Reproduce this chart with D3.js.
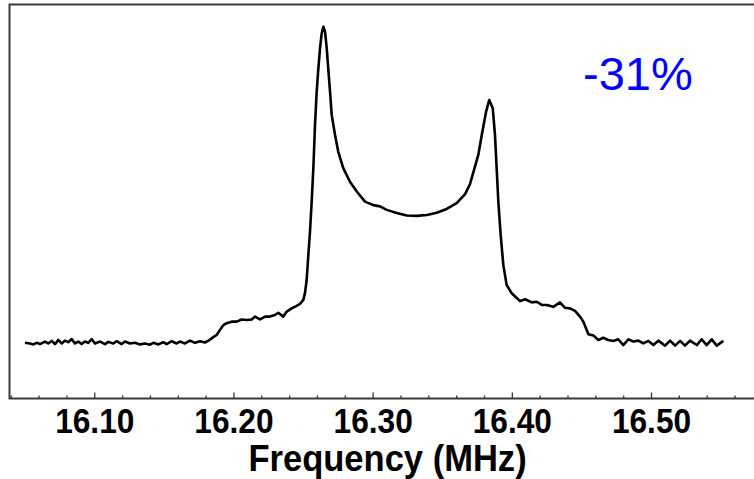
<!DOCTYPE html>
<html>
<head>
<meta charset="utf-8">
<script src="https://cdn.jsdelivr.net/npm/d3@7"></script>
<style>
    body { margin: 0; background: #fff; }
    svg { display: block; }
</style>
</head>
<body>
<div id="spectrum-chart">
  <svg class="canvas"></svg>
</div>
<script>
// NMR spectrum, frequency in MHz, signal normalised to the tallest peak
const frequency = [
    16.0502, 16.0538, 16.0562, 16.0586, 16.0610, 16.0646, 16.0669, 16.0694, 16.0718, 16.0741,
    16.0766, 16.0789, 16.0813, 16.0838, 16.0861, 16.0885, 16.0909, 16.0933, 16.0957, 16.0981,
    16.1005, 16.1041, 16.1077, 16.1101, 16.1137, 16.1161, 16.1197, 16.1221, 16.1257, 16.1292,
    16.1328, 16.1364, 16.1400, 16.1424, 16.1460, 16.1496, 16.1520, 16.1556, 16.1592, 16.1616,
    16.1652, 16.1688, 16.1724, 16.1760, 16.1795, 16.1817, 16.1831, 16.1855, 16.1880, 16.1903,
    16.1927, 16.1951, 16.1987, 16.2023, 16.2059, 16.2095, 16.2131, 16.2155, 16.2191, 16.2227,
    16.2262, 16.2298, 16.2322, 16.2358, 16.2383, 16.2418, 16.2454, 16.2478, 16.2502, 16.2514,
    16.2526, 16.2538, 16.2550, 16.2562, 16.2574, 16.2586, 16.2598, 16.2610, 16.2622, 16.2634,
    16.2646, 16.2658, 16.2670, 16.2681, 16.2694, 16.2706, 16.2730, 16.2753, 16.2789, 16.2837,
    16.2886, 16.2945, 16.3005, 16.3053, 16.3101, 16.3173, 16.3245, 16.3317, 16.3389, 16.3460,
    16.3532, 16.3604, 16.3664, 16.3700, 16.3728, 16.3759, 16.3784, 16.3815, 16.3838, 16.3863,
    16.3879, 16.3891, 16.3903, 16.3920, 16.3939, 16.3963, 16.3999, 16.4035, 16.4059, 16.4095,
    16.4143, 16.4179, 16.4215, 16.4251, 16.4298, 16.4346, 16.4382, 16.4418, 16.4454, 16.4490,
    16.4514, 16.4533, 16.4550, 16.4586, 16.4622, 16.4657, 16.4693, 16.4729, 16.4765, 16.4801,
    16.4837, 16.4873, 16.4909, 16.4945, 16.4981, 16.5017, 16.5053, 16.5101, 16.5137, 16.5173,
    16.5209, 16.5244, 16.5280, 16.5329, 16.5364, 16.5400, 16.5436, 16.5472, 16.5520
];
const signal = [
    -0.001, -0.003, -0.006, -0.001, -0.005, 0.003, -0.003, 0.005, -0.005, 0.008,
    -0.003, 0.006, 0.001, 0.011, -0.003, 0.003, -0.005, 0.003, -0.001, 0.011,
    -0.003, 0.003, -0.005, 0.002, -0.003, 0.004, -0.005, 0.003, -0.003, -0.001,
    -0.006, -0.003, -0.007, -0.001, -0.006, 0.001, -0.005, 0.004, -0.003, 0.003,
    -0.003, 0.006, -0.001, 0.004, 0.000, 0.005, 0.009, 0.017, 0.024, 0.040,
    0.055, 0.061, 0.066, 0.066, 0.073, 0.071, 0.073, 0.082, 0.073, 0.082,
    0.082, 0.087, 0.094, 0.082, 0.098, 0.108, 0.116, 0.122, 0.135, 0.157,
    0.198, 0.277, 0.351, 0.446, 0.552, 0.689, 0.794, 0.868, 0.932, 0.979,
    1.000, 0.984, 0.932, 0.868, 0.794, 0.720, 0.657, 0.604, 0.552, 0.509,
    0.478, 0.446, 0.435, 0.431, 0.420, 0.410, 0.402, 0.401, 0.404, 0.411,
    0.423, 0.441, 0.470, 0.502, 0.546, 0.594, 0.657, 0.731, 0.768, 0.742,
    0.657, 0.552, 0.446, 0.340, 0.245, 0.182, 0.156, 0.141, 0.131, 0.137,
    0.127, 0.129, 0.119, 0.119, 0.113, 0.127, 0.110, 0.108, 0.100, 0.082,
    0.066, 0.045, 0.026, 0.022, 0.008, 0.015, 0.008, 0.005, 0.010, -0.008,
    0.010, 0.003, 0.006, -0.003, 0.005, -0.008, 0.006, -0.010, 0.006, -0.010,
    0.005, -0.010, 0.006, -0.008, 0.010, -0.008, 0.010, -0.010, 0.005
];
const majorTicks = [16.10, 16.20, 16.30, 16.40, 16.50];
const minorTicks = [16.04, 16.06, 16.08, 16.12, 16.14, 16.16, 16.18, 16.22, 16.24, 16.26, 16.28,
    16.32, 16.34, 16.36, 16.38, 16.42, 16.44, 16.46, 16.48, 16.52, 16.54, 16.56];
const xTitle = 'Frequency (MHz)';
const changeLabel = '-31%';

let canvasWidth = 754;
let canvasHeight = 479;
let canvas = d3.select('#spectrum-chart .canvas')
    .attr('width', canvasWidth)
    .attr('height', canvasHeight);

// plot box runs past the right edge of the picture, as in the original crop
let box = {left: 9.5, top: 4.5, right: 760, bottom: 398.5};

let xScale = d3.scaleLinear()
    .domain([16.0391, 16.5783])
    .range([box.left, box.right]);

let yScale = d3.scaleLinear()
    .domain([-0.1773, 1.0703])
    .range([box.bottom, box.top]);

let labelFont = '"Liberation Sans", Arial, Helvetica, sans-serif';

// minor ticks
let minorAxis = d3.axisBottom(xScale)
    .tickValues(minorTicks)
    .tickSizeInner(-3)
    .tickSizeOuter(0)
    .tickFormat('');
let gMinor = canvas.append('g')
    .attr('transform', `translate(0, ${box.bottom})`)
    .call(minorAxis);
gMinor.select('.domain').remove();

// major ticks with labels
let majorAxis = d3.axisBottom(xScale)
    .tickValues(majorTicks)
    .tickSizeInner(-6)
    .tickSizeOuter(0)
    .tickPadding(9)
    .tickFormat(d3.format('.2f'));
let gMajor = canvas.append('g')
    .attr('transform', `translate(0, ${box.bottom})`)
    .call(majorAxis);
gMajor.select('.domain').remove();
gMajor.selectAll('.tick text')
    .attr('font-family', labelFont)
    .attr('font-weight', 'bold')
    .attr('font-size', 36)
    .attr('fill', '#000')
    .attr('transform', 'scale(0.88,1)');

canvas.selectAll('.tick line')
    .attr('stroke', '#333')
    .attr('stroke-width', 1.3);

// frame: left, top and bottom edges
canvas.append('path')
    .attr('d', `M${box.right},${box.top}H${box.left}V${box.bottom}H${box.right}`)
    .attr('fill', 'none')
    .attr('stroke', '#3a3a3a')
    .attr('stroke-width', 2);

// spectrum line
let points = d3.zip(frequency, signal);
let valueline = d3.line()
    .x(d => xScale(d[0]))
    .y(d => yScale(d[1]));

canvas.append('path')
    .datum(points)
    .attr('d', valueline)
    .attr('fill', 'none')
    .attr('stroke', '#000')
    .attr('stroke-width', 2.6)
    .attr('stroke-linejoin', 'round');

// axis title
canvas.append('text')
    .attr('transform', `translate(${(243 + 532) / 2}, 471) scale(0.96,1)`)
    .attr('text-anchor', 'middle')
    .attr('font-family', labelFont)
    .attr('font-weight', 'bold')
    .attr('font-size', 36)
    .text(xTitle);

// change label
canvas.append('text')
    .attr('x', 583)
    .attr('y', 89.5)
    .attr('font-family', labelFont)
    .attr('font-size', 47)
    .attr('fill', '#0000ff')
    .text(changeLabel);
</script>
</body>
</html>
